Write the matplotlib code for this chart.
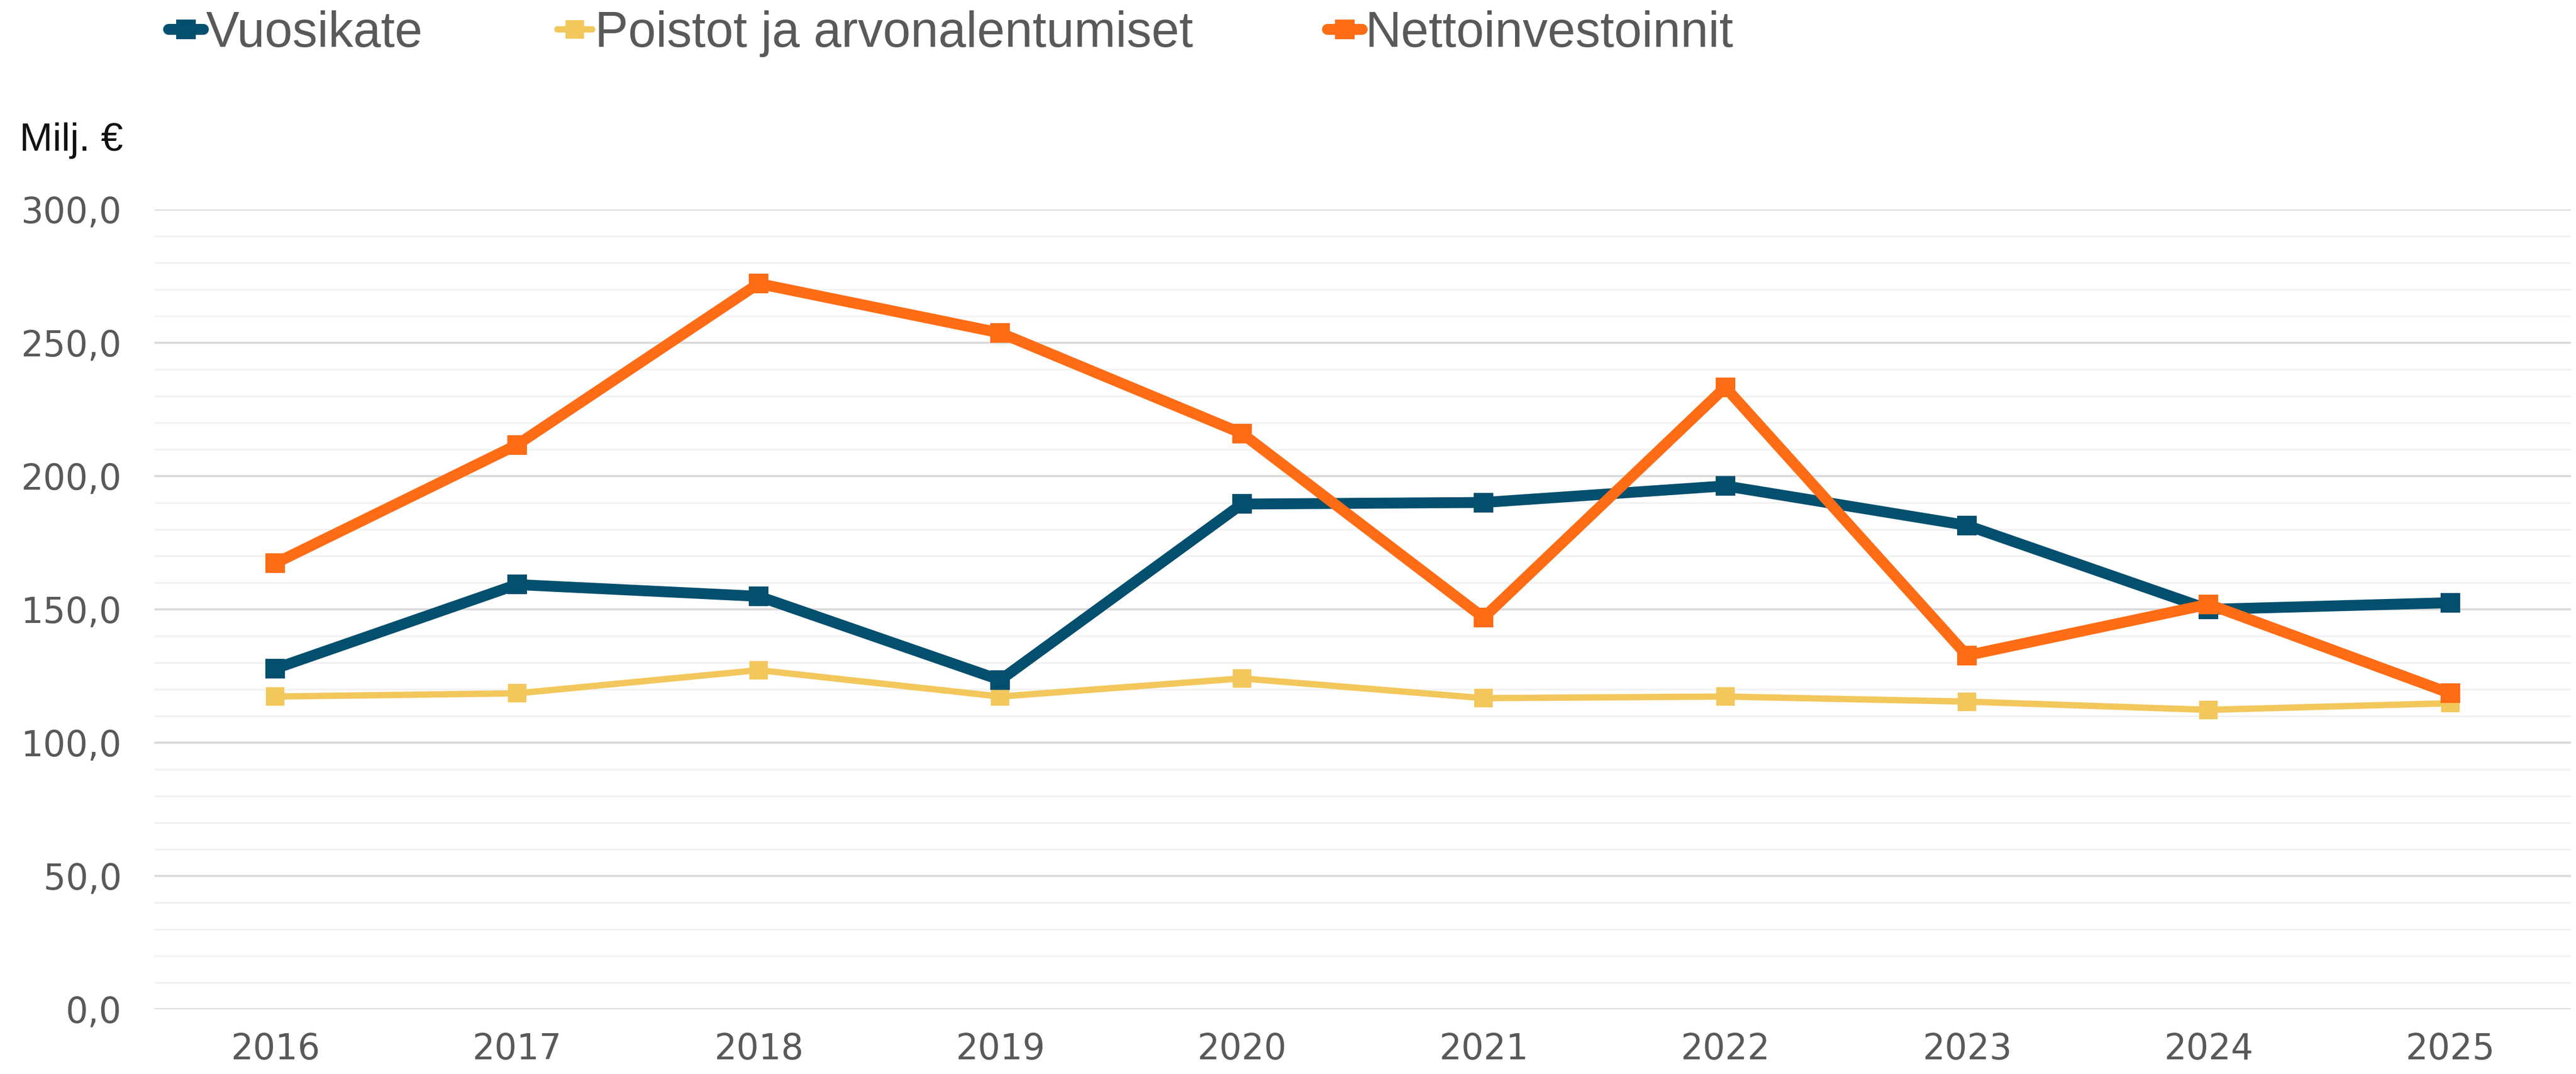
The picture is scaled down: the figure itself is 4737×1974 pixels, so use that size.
import matplotlib
matplotlib.use("Agg")
import matplotlib.pyplot as plt
from matplotlib.ticker import MultipleLocator, FuncFormatter

years = ["2016", "2017", "2018", "2019", "2020", "2021", "2022", "2023", "2024", "2025"]
vuosikate = [127.8, 159.3, 154.9, 123.5, 189.5, 190.1, 196.3, 181.5, 150.0, 152.5]
poistot = [117.3, 118.5, 127.2, 117.3, 124.1, 116.7, 117.3, 115.4, 112.3, 114.8]
netto = [167.3, 211.7, 272.2, 253.7, 216.0, 146.9, 233.3, 132.7, 151.9, 118.5]
labels = ["Vuosikate", "Poistot ja arvonalentumiset", "Nettoinvestoinnit"]

DPI = 300
fig = plt.figure(figsize=(4737 / DPI, 1974 / DPI), dpi=DPI)
ax = fig.add_axes([284 / 4737, 1 - 1855 / 1974, (4728 - 284) / 4737, (1855 - 385) / 1974])

x = list(range(len(years)))
c_blue = "#034F6E"
c_yel = "#F2C75C"
c_ora = "#FE6C15"

l1, = ax.plot(x, vuosikate, color=c_blue, lw=4.8, marker="s", ms=8.0, mew=0.5,
              solid_joinstyle="round", solid_capstyle="round", zorder=3)
l2, = ax.plot(x, poistot, color=c_yel, lw=2.8, marker="s", ms=7.6, mew=0.5,
              solid_joinstyle="round", solid_capstyle="round", zorder=2)
l3, = ax.plot(x, netto, color=c_ora, lw=4.8, marker="s", ms=8.0, mew=0.5,
              solid_joinstyle="round", solid_capstyle="round", zorder=4)

ax.set_xlim(-0.5, len(years) - 0.5)
ax.set_ylim(0, 300)
ax.yaxis.set_major_locator(MultipleLocator(50))
ax.yaxis.set_minor_locator(MultipleLocator(10))
ax.yaxis.set_major_formatter(FuncFormatter(lambda v, p: f"{v:.1f}".replace(".", ",")))
ax.set_xticks(x)
ax.set_xticklabels(years)
ax.grid(axis="y", which="minor", color="#F2F2F2", lw=0.8, zorder=0)
ax.grid(axis="y", which="major", color="#D9D9D9", lw=0.9, zorder=0)
ax.set_axisbelow(True)
for s in ax.spines.values():
    s.set_visible(False)
ax.tick_params(axis="both", which="both", length=0)
ax.tick_params(axis="y", pad=14.5, labelsize=15.5, labelcolor="#595959")
ax.tick_params(axis="x", pad=10, labelsize=15.5, labelcolor="#595959")
for t in ax.get_xticklabels() + ax.get_yticklabels():
    t.set_fontfamily("DejaVu Sans")

fig.text(36 / 4737, 1 - 258 / 1974, "Milj. €", fontsize=17.5, color="#111111",
         family="Liberation Sans", va="center", ha="left")

leg = fig.legend([l1, l2, l3], labels, loc="center left",
                 bbox_to_anchor=(310 / 4737, 1 - 62 / 1974), ncol=3, frameon=False,
                 handlelength=0.7, handletextpad=0.05, columnspacing=2.7,
                 prop={"family": "Liberation Sans", "size": 22}, labelcolor="#595959",
                 borderpad=0, borderaxespad=0)

fig.savefig("out.png", dpi=DPI, facecolor="white")
